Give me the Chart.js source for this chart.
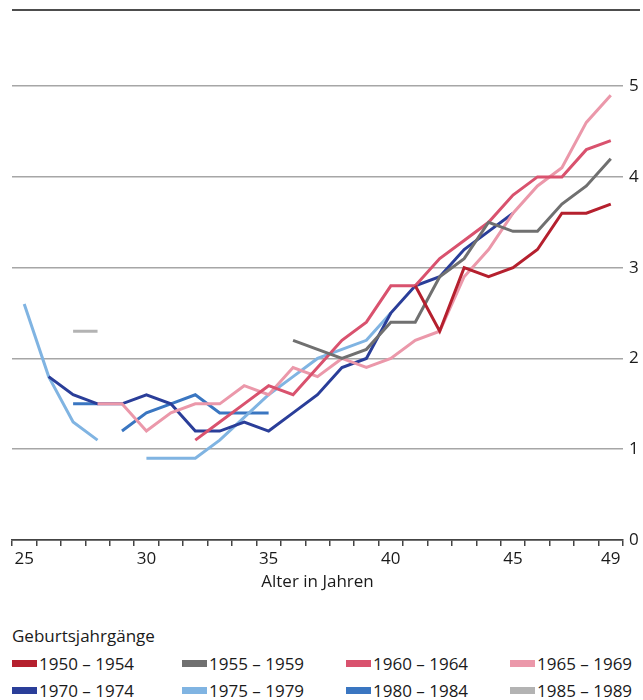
<!DOCTYPE html>
<html lang="de">
<head>
    <meta charset="UTF-8">
    <title>Geburtsjahrgänge</title>
    <script src="https://cdn.jsdelivr.net/npm/chart.js"></script>
    <style>
        body {
            margin: 0;
            background: #ffffff;
            font-family: "Open Sans", Arial, sans-serif;
            color: #1a1a1a;
        }
        #wrap {
            position: relative;
            width: 643px;
            height: 700px;
        }
        #topline {
            position: absolute;
            left: 12px;
            top: 9px;
            width: 628px;
            height: 2px;
            background: #4d4d4d;
        }
        #chartBox {
            position: absolute;
            left: 0;
            top: 0;
            width: 643px;
            height: 600px;
        }
        #legend {
            position: absolute;
            left: 12px;
            top: 624px;
            font-size: 17px;
        }
        #legend .title { height: 26px; line-height: 24px; }
        #legend .items {
            display: grid;
            grid-template-columns: 170px 164px 164px auto;
            grid-auto-rows: 27px;
        }
        #legend .item { display: flex; align-items: center; white-space: nowrap; }
        #legend .swatch {
            width: 25px;
            height: 7px;
            margin-right: 2px;
        }
    </style>
</head>
<body>
<div id="wrap">
    <div id="chartBox"><canvas id="chart" width="643" height="600"></canvas></div>
    <div id="topline"></div>
    <div id="legend">
        <div class="title">Geburtsjahrgänge</div>
        <div class="items" id="legendItems"></div>
    </div>
</div>

<script>
    // Alter in Jahren
    const ages = ['25','26','27','28','29','30','31','32','33','34','35','36','37',
                  '38','39','40','41','42','43','44','45','46','47','48','49'];
    const shownAges = ['25','30','35','40','45','49'];
    const yTicks = [0, 1, 2, 3, 4, 5];

    const cohorts = ['1950 – 1954','1955 – 1959','1960 – 1964','1965 – 1969',
                     '1970 – 1974','1975 – 1979','1980 – 1984','1985 – 1989'];
    const colors = ['#b5202e','#707070','#d9526e','#eb98aa',
                    '#2a3e99','#80b4e2','#3a76c1','#b3b3b3'];

    // one value per age 25..49, null = no value
    const c1950 = [null,null,null,null,null,null,null,null,null,null,null,null,null,
                   null,null,null,2.8,2.3,3.0,2.9,3.0,3.2,3.6,3.6,3.7];
    const c1955 = [null,null,null,null,null,null,null,null,null,null,null,2.2,2.1,
                   2.0,2.1,2.4,2.4,2.9,3.1,3.5,3.4,3.4,3.7,3.9,4.2];
    const c1960 = [null,null,null,null,null,null,null,1.1,1.3,1.5,1.7,1.6,1.9,
                   2.2,2.4,2.8,2.8,3.1,3.3,3.5,3.8,4.0,4.0,4.3,4.4];
    const c1965 = [null,null,null,1.5,1.5,1.2,1.4,1.5,1.5,1.7,1.6,1.9,1.8,
                   2.0,1.9,2.0,2.2,2.3,2.9,3.2,3.6,3.9,4.1,4.6,4.9];
    const c1970 = [null,1.8,1.6,1.5,1.5,1.6,1.5,1.2,1.2,1.3,1.2,1.4,1.6,
                   1.9,2.0,2.5,2.8,2.9,3.2,3.4,3.6,null,null,null,null];
    const c1975 = [2.6,1.8,1.3,1.1,null,0.9,0.9,0.9,1.1,1.35,1.6,1.8,2.0,
                   2.1,2.2,2.5,null,null,null,null,null,null,null,null,null];
    // 1980 – 1984 has two separate pieces (27–28 and 29–35)
    const c1980a = [null,null,1.5,1.5,null,null,null,null,null,null,null,null,null,
                    null,null,null,null,null,null,null,null,null,null,null,null];
    const c1980b = [null,null,null,null,1.2,1.4,1.5,1.6,1.4,1.4,1.4,null,null,
                    null,null,null,null,null,null,null,null,null,null,null,null];
    const c1985 = [null,null,2.3,2.3,null,null,null,null,null,null,null,null,null,
                   null,null,null,null,null,null,null,null,null,null,null,null];

    const series = [
        { c: 0, data: c1950 }, { c: 1, data: c1955 }, { c: 2, data: c1960 },
        { c: 3, data: c1965 }, { c: 4, data: c1970 }, { c: 5, data: c1975 },
        { c: 6, data: c1980a }, { c: 6, data: c1980b }, { c: 7, data: c1985 }
    ];

    const tickFont = { family: '"Open Sans", Arial, sans-serif', size: 17 };

    new Chart(document.getElementById('chart'), {
        type: 'line',
        data: {
            labels: ages,
            datasets: series.map(s => ({
                label: cohorts[s.c],
                data: s.data,
                borderColor: colors[s.c],
                backgroundColor: colors[s.c],
                borderWidth: 3,
                pointRadius: 0,
                tension: 0,
                spanGaps: false
            }))
        },
        options: {
            responsive: false,
            animation: false,
            layout: { padding: { left: 12, right: 0, top: 3, bottom: 0 } },
            plugins: { legend: { display: false }, tooltip: { enabled: false } },
            scales: {
                x: {
                    offset: true,
                    afterFit: s => { s.height = 60; },
                    grid: { offset: true, drawOnChartArea: false, tickLength: 6, color: '#444', lineWidth: 1.5 },
                    border: { color: '#444', width: 1.5 },
                    ticks: {
                        autoSkip: false, maxRotation: 0, padding: 3,
                        color: '#1a1a1a', font: tickFont,
                        callback: (v, i) => shownAges.includes(ages[i]) ? ages[i] : ''
                    },
                    title: { display: true, text: 'Alter in Jahren', color: '#1a1a1a', font: tickFont, padding: { top: 0, bottom: 8 } }
                },
                y: {
                    position: 'right',
                    min: 0,
                    max: 5.77,
                    afterFit: s => { s.width = 20; },
                    afterBuildTicks: s => { s.ticks = yTicks.map(v => ({ value: v })); },
                    grid: {
                        drawTicks: false,
                        lineWidth: 1.5,
                        color: ctx => ctx.tick && ctx.tick.value === 0 ? '#444' : '#a6a6a6'
                    },
                    border: { display: false },
                    ticks: { padding: 6, color: '#1a1a1a', font: tickFont }
                }
            }
        }
    });

    // legend
    const legendItems = document.getElementById('legendItems');
    cohorts.forEach((name, i) => {
        const item = document.createElement('div');
        item.className = 'item';
        item.innerHTML = '<span class="swatch" style="background:' + colors[i] + '"></span><span>' + name + '</span>';
        legendItems.appendChild(item);
    });
</script>
</body>
</html>
